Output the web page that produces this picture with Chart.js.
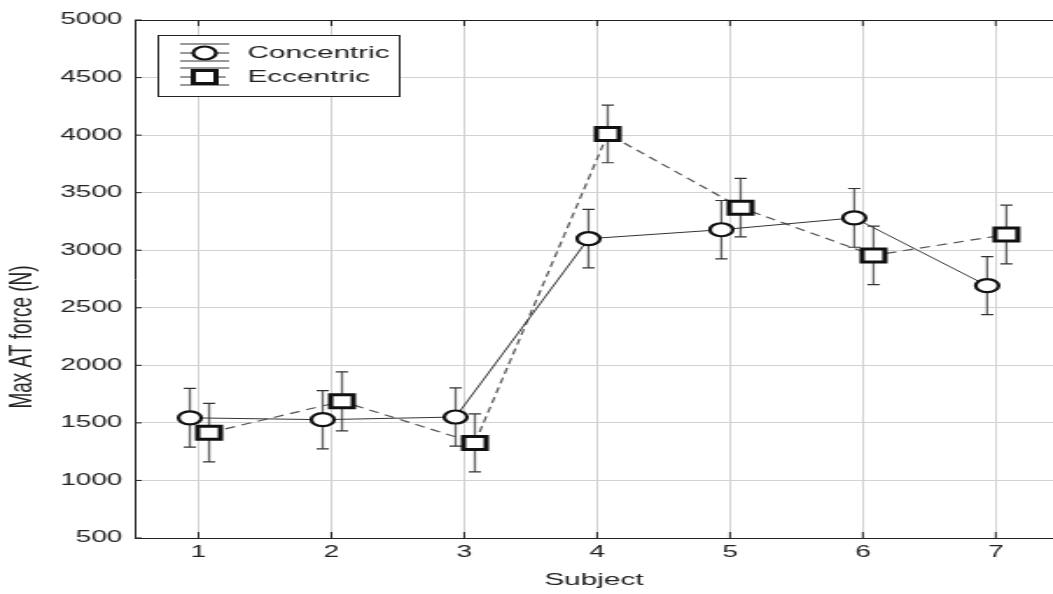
<!DOCTYPE html>
<html>
<head>
<meta charset="utf-8">
<script src="https://cdn.jsdelivr.net/npm/chart.js@4"></script>
<style>
    html, body { margin: 0; padding: 0; background: #fff; overflow: hidden; }
    /* the original figure is stretched sideways, so draw narrow and widen it */
    #wrap { width: 602px; height: 594px; transform: scaleX(1.749); transform-origin: 0 0; }
</style>
</head>
<body>
<div id="wrap"><canvas id="chart" width="602" height="594"></canvas></div>
<script>
const subjects = [1, 2, 3, 4, 5, 6, 7];
const concentricMean = [1544, 1528, 1551, 3100, 3178, 3281, 2692];
const concentricErr = [255, 253, 253, 254, 254, 255, 252];
const eccentricMean = [1415, 1687, 1326, 4010, 3370, 2955, 3136];
const eccentricErr = [254, 257, 252, 250, 254, 254, 255];
const yTicks = [500, 1000, 1500, 2000, 2500, 3000, 3500, 4000, 4500, 5000];
const yTitle = "Max AT force (N)";

const FONT = "'Liberation Sans', Arial, sans-serif";
const errs = [concentricErr, eccentricErr];

const errorBars = {
    id: "errorBars",
    beforeDatasetsDraw(chart) {
        const ctx = chart.ctx;
        const xs = chart.scales.x, ys = chart.scales.y;
        ctx.save();
        chart.data.datasets.forEach((ds, i) => {
            ds.data.forEach((p, j) => {
                const x = xs.getPixelForValue(p.x);
                const top = ys.getPixelForValue(p.y + errs[i][j]);
                const bot = ys.getPixelForValue(p.y - errs[i][j]);
                ctx.strokeStyle = "#666";
                ctx.lineWidth = 1.3;
                ctx.beginPath();
                ctx.moveTo(x, top);
                ctx.lineTo(x, bot);
                ctx.stroke();
                ctx.strokeStyle = "#333";
                ctx.lineWidth = 1.2;
                ctx.beginPath();
                ctx.moveTo(x - 3.5, top); ctx.lineTo(x + 3.5, top);
                ctx.moveTo(x - 3.5, bot); ctx.lineTo(x + 3.5, bot);
                ctx.stroke();
            });
        });
        ctx.restore();
    }
};

const frame = {
    id: "frame",
    afterDraw(chart) {
        const ctx = chart.ctx;
        const a = chart.chartArea;
        ctx.save();
        ctx.strokeStyle = "#222";
        ctx.lineWidth = 1;
        ctx.beginPath();
        ctx.moveTo(a.left, a.top + 0.5);
        ctx.lineTo(a.right, a.top + 0.5);
        chart.scales.x.ticks.forEach(t => {
            const x = chart.scales.x.getPixelForValue(t.value);
            ctx.moveTo(x, a.bottom); ctx.lineTo(x, a.bottom - 6);
            ctx.moveTo(x, a.top); ctx.lineTo(x, a.top + 6);
        });
        chart.scales.y.ticks.forEach(t => {
            const y = chart.scales.y.getPixelForValue(t.value);
            ctx.moveTo(a.left, y); ctx.lineTo(a.left + 4, y);
        });
        ctx.stroke();

        // y axis title, sits lower than the plot centre in the original
        ctx.translate(12.6, 337);
        ctx.rotate(-Math.PI / 2);
        ctx.fillStyle = "#222";
        ctx.font = "19px " + FONT;
        ctx.textAlign = "center";
        ctx.textBaseline = "middle";
        ctx.fillText(yTitle, 0, 0);
        ctx.restore();
    }
};

function drawMarker(ctx, style, x, y) {
    ctx.fillStyle = "#fff";
    ctx.strokeStyle = "#111";
    ctx.beginPath();
    if (style === "circle") {
        ctx.lineWidth = 2.2;
        ctx.arc(x, y, 6.5, 0, Math.PI * 2);
    } else {
        ctx.lineWidth = 3;
        ctx.rect(x - 6.5, y - 6.5, 13, 13);
    }
    ctx.fill();
    ctx.stroke();
}

const boxLegend = {
    id: "boxLegend",
    afterDraw(chart) {
        const ctx = chart.ctx;
        ctx.save();
        ctx.fillStyle = "#fff";
        ctx.fillRect(90.5, 35.5, 138, 61);
        ctx.strokeStyle = "#222";
        ctx.lineWidth = 1;
        ctx.strokeRect(90.5, 35.5, 138, 61);
        const rows = [53, 77];
        chart.data.datasets.forEach((ds, i) => {
            const cy = rows[i];
            ctx.strokeStyle = "#333";
            ctx.lineWidth = 1;
            ctx.setLineDash([]);
            ctx.beginPath();
            ctx.moveTo(103, cy - 9); ctx.lineTo(131, cy - 9);
            ctx.moveTo(103, cy + 8); ctx.lineTo(131, cy + 8);
            ctx.stroke();
            ctx.setLineDash(ds.borderDash || []);
            ctx.beginPath();
            ctx.moveTo(103, cy); ctx.lineTo(131, cy);
            ctx.stroke();
            ctx.setLineDash([]);
            drawMarker(ctx, ds.pointStyle, 117, cy);
            ctx.fillStyle = "#222";
            ctx.font = "17px " + FONT;
            ctx.textBaseline = "middle";
            ctx.textAlign = "left";
            ctx.fillText(ds.label, 141.5, cy);
        });
        ctx.restore();
    }
};

new Chart(document.getElementById("chart"), {
    type: "scatter",
    data: {
        datasets: [{
            label: "Concentric",
            data: subjects.map((s, i) => ({ x: s - 0.065, y: concentricMean[i] })),
            showLine: true,
            borderColor: "#333",
            borderWidth: 1,
            pointStyle: "circle",
            pointRadius: 6.5,
            pointBorderWidth: 2.2,
            pointBorderColor: "#111",
            pointBackgroundColor: "#fff"
        }, {
            label: "Eccentric",
            data: subjects.map((s, i) => ({ x: s + 0.08, y: eccentricMean[i] })),
            showLine: true,
            borderColor: "#555",
            borderWidth: 1.2,
            borderDash: [6, 4],
            pointStyle: "rect",
            pointRadius: 9.2,
            pointBorderWidth: 3,
            pointBorderColor: "#111",
            pointBackgroundColor: "#fff"
        }]
    },
    options: {
        responsive: false,
        animation: false,
        layout: { autoPadding: false, padding: { top: 20, right: 0, bottom: 0, left: 0 } },
        plugins: {
            legend: { display: false },
            tooltip: { enabled: false }
        },
        scales: {
            x: {
                type: "linear",
                min: 0.52,
                max: 7.43,
                afterBuildTicks: scale => { scale.ticks = subjects.map(v => ({ value: v })); },
                afterFit: scale => {
                    scale.height = 56;
                    scale.paddingLeft = 0;
                    scale.paddingRight = 0;
                },
                grid: { color: "#d2d2d2", lineWidth: 1, drawTicks: false },
                border: { color: "#222", width: 1 },
                ticks: { padding: 5, color: "#222", font: { family: FONT, size: 16 } },
                title: {
                    display: true,
                    text: "Subject",
                    color: "#222",
                    font: { family: FONT, size: 17 },
                    padding: { top: 0, bottom: 3.8 }
                }
            },
            y: {
                min: 500,
                max: 5000,
                afterBuildTicks: scale => { scale.ticks = yTicks.map(v => ({ value: v })); },
                afterFit: scale => { scale.width = 77; },
                grid: { color: "#d2d2d2", lineWidth: 1, drawTicks: false },
                border: { color: "#222", width: 1 },
                ticks: {
                    padding: 7,
                    color: "#222",
                    font: { family: FONT, size: 16 },
                    callback: v => String(v)
                }
            }
        }
    },
    plugins: [errorBars, frame, boxLegend]
});
</script>
</body>
</html>
